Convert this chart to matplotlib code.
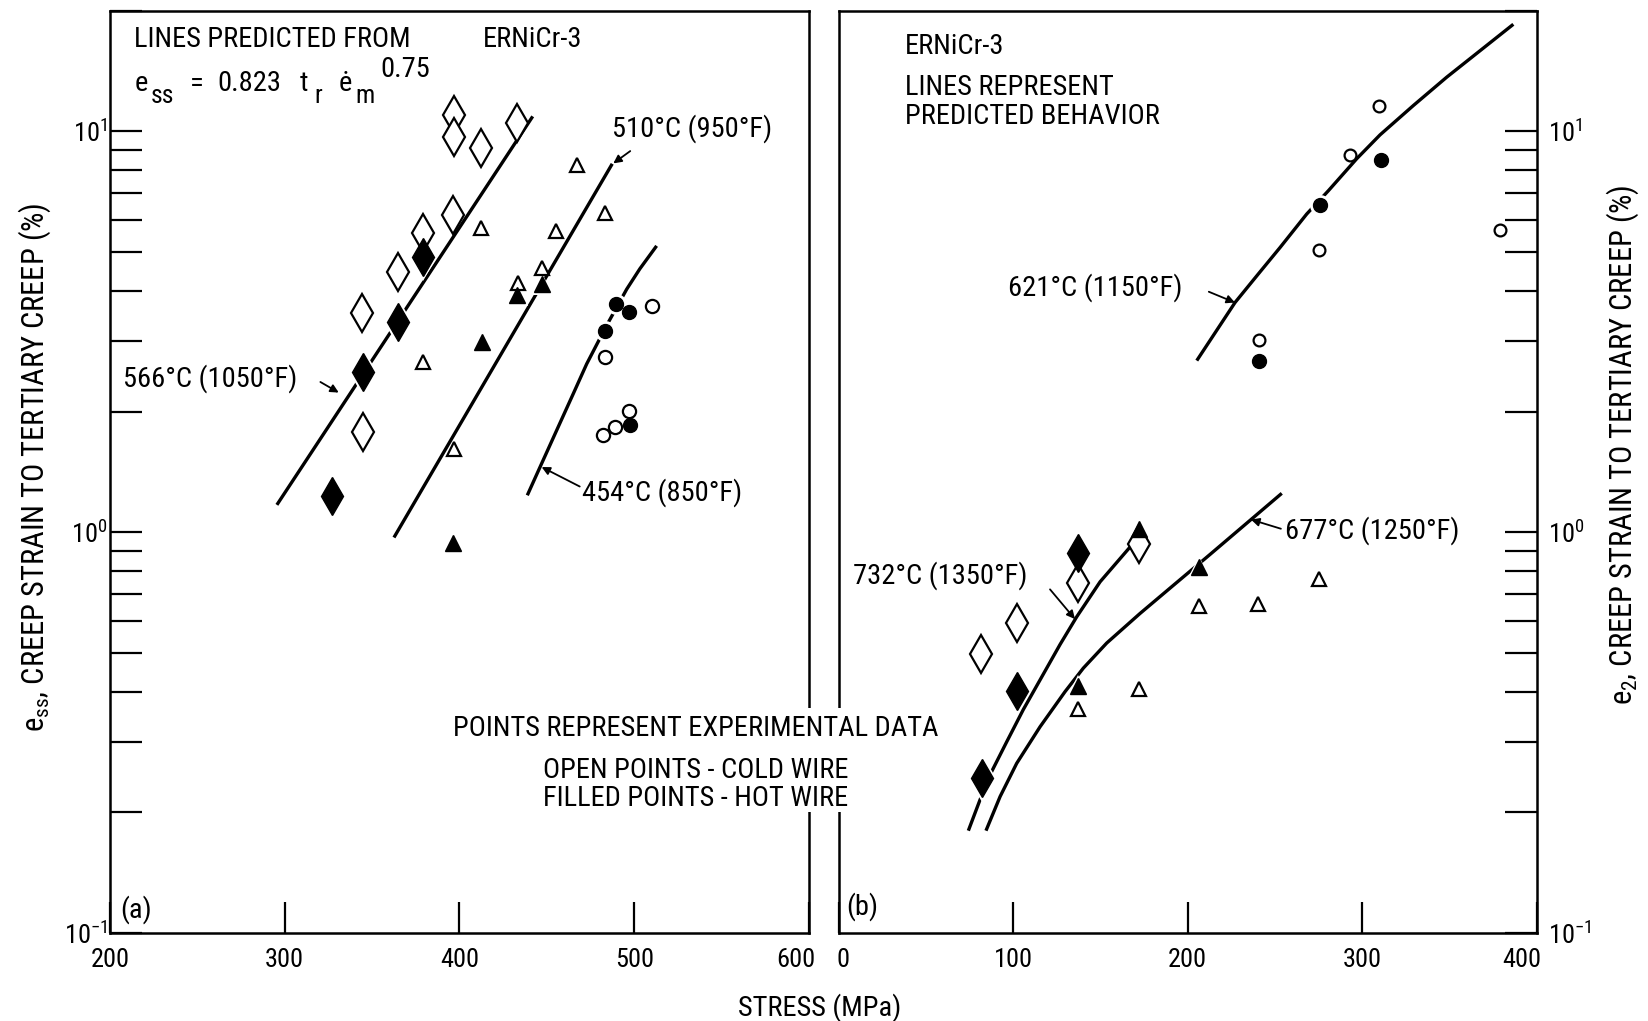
import matplotlib
matplotlib.use("Agg")
import matplotlib.pyplot as plt
import matplotlib.font_manager as fm
import matplotlib.transforms as mtrans
from matplotlib.patches import Rectangle
import numpy as np

# pick a condensed / narrow sans face if one is installed
_pref = ['Liberation Sans Narrow', 'Roboto Condensed', 'Open Sans Condensed', 'DejaVu Sans']
_chosen = None
for fam in _pref:
    for f in fm.fontManager.ttflist:
        if f.name == fam and f.style == 'normal' and f.weight in (400, 'normal', 'regular') \
                and ('Condensed' in f.fname or 'Narrow' in f.fname):
            _chosen = f
            break
    if _chosen:
        break
if _chosen is not None:
    plt.rcParams['font.family'] = [_chosen.name, 'DejaVu Sans']
    plt.rcParams['font.stretch'] = _chosen.stretch
    base = _chosen.name
else:
    plt.rcParams['font.family'] = ['DejaVu Sans']
    base = 'DejaVu Sans'
plt.rcParams['mathtext.fontset'] = 'custom'
plt.rcParams['mathtext.rm'] = base
plt.rcParams['mathtext.it'] = base
plt.rcParams['mathtext.default'] = 'regular'

# ---------------- data: panel (a) ----------------
d566_open_x = [397, 397, 412.5, 433, 396, 379, 365, 344, 345]
d566_open_y = [11.0, 9.7, 9.1, 10.5, 6.18, 5.58, 4.46, 3.52, 1.78]
d566_fill_x = [379, 365, 345, 327]
d566_fill_y = [4.85, 3.34, 2.51, 1.23]

t510_open_x = [412.5, 379, 467, 483, 455, 447, 433.5, 397]
t510_open_y = [5.75, 2.66, 8.24, 6.25, 5.64, 4.57, 4.19, 1.61]
t510_fill_x = [413, 433, 447, 396]
t510_fill_y = [2.99, 3.90, 4.15, 0.94]

c454_open_x = [510, 483, 497, 489, 482]
c454_open_y = [3.66, 2.73, 2.01, 1.83, 1.75]
c454_fill_x = [489.5, 497, 483, 497.5]
c454_fill_y = [3.71, 3.54, 3.18, 1.85]

line566_x = [295.5, 441.9]
line566_y = [1.17, 10.9]
line510_x = [362.5, 487.4]
line510_y = [0.97, 8.3]
line454_x = [438.8, 446.1, 455.6, 465.1, 472.8, 484.2, 495.7, 503.2, 512.8]
line454_y = [1.236, 1.454, 1.795, 2.215, 2.63, 3.28, 4.04, 4.54, 5.18]

# ---------------- data: panel (b) ----------------
c621_open_x = [309.7, 293.1, 275.2, 378.8, 240.9]
c621_open_y = [11.6, 8.72, 5.07, 5.69, 3.02]
c621_fill_x = [310.6, 275.8, 240.9]
c621_fill_y = [8.49, 6.55, 2.67]

d732_open_x = [81.8, 102.1, 137.0, 172.4]
d732_open_y = [0.497, 0.593, 0.747, 0.933]
d732_fill_x = [137.0, 102.1, 82.4]
d732_fill_y = [0.886, 0.402, 0.244]

t677_fill_x = [172.4, 206.7, 137.0]
t677_fill_y = [1.02, 0.82, 0.414]
t677_open_x = [206.7, 240.3, 275.2, 172.4, 137.0]
t677_open_y = [0.655, 0.663, 0.762, 0.407, 0.362]

line621_x = [205.3, 227.2, 240.6, 253.0, 268.3, 280.7, 297.0, 310.3, 329.4, 348.5, 386.7]
line621_y = [2.68, 3.74, 4.41, 5.13, 6.22, 7.11, 8.55, 9.80, 11.6, 13.65, 18.5]
line732_x = [74.4, 81.1, 87.8, 96.4, 105.9, 115.5, 127.0, 136.5, 149.9, 168.9]
line732_y = [0.180, 0.215, 0.253, 0.300, 0.361, 0.428, 0.525, 0.615, 0.752, 0.938]
line677_x = [84.5, 92.6, 102.1, 115.5, 129.8, 140.3, 153.7, 172.8, 191.9, 212.9, 235.8, 254.0]
line677_y = [0.180, 0.219, 0.265, 0.327, 0.400, 0.458, 0.529, 0.627, 0.737, 0.880, 1.07, 1.25]

xticks_a = [200, 300, 400, 500, 600]
xticks_b = [0, 100, 200, 300, 400]
yticks = [0.1, 1, 10]
ytick_labels = [r'$10^{-1}$', r'$10^{0}$', r'$10^{1}$']

FS = 20.5
TFS = 19
LFS = 22
LW = 2.4

fig = plt.figure(figsize=(16.49, 10.21), dpi=100)
axA = fig.add_axes([0.0667, 0.0862, 0.4239, 0.9033])
axB = fig.add_axes([0.5085, 0.0862, 0.4233, 0.9033])

for ax in (axA, axB):
    ax.set_yscale('log')
    ax.set_ylim(0.1, 20)
    for s in ax.spines.values():
        s.set_linewidth(1.8)
    ax.set_yticks(yticks)
    ax.set_yticklabels(ytick_labels)
    ax.yaxis.set_minor_locator(matplotlib.ticker.LogLocator(base=10, subs=np.arange(2, 10)))
    ax.yaxis.set_minor_formatter(matplotlib.ticker.NullFormatter())
    ax.tick_params(axis='both', which='both', direction='in', labelsize=TFS, width=1.6)
    ax.tick_params(axis='y', which='both', length=23)
    ax.tick_params(axis='x', which='both', length=22, pad=11)

axA.set_xlim(200, 600)
axA.set_xticks(xticks_a)
axA.tick_params(axis='y', which='both', left=True, right=False, labelleft=True, labelright=False, pad=2)
axB.set_xlim(0, 400)
axB.set_xticks(xticks_b)
axB.tick_params(axis='y', which='both', left=False, right=True, labelleft=False, labelright=True, pad=8)

def shift_label(ax, idx, dx_px):
    lab = ax.xaxis.get_major_ticks()[idx].label1
    lab.set_transform(lab.get_transform() + mtrans.ScaledTranslation(dx_px / 100, 0, fig.dpi_scale_trans))

shift_label(axA, -1, -13)
shift_label(axB, 0, 4)
shift_label(axB, -1, -15)

def open_pts(ax, x, y, m, ms):
    ax.plot(x, y, linestyle='none', marker=m, ms=ms, mfc='white', mec='black', mew=1.6, zorder=4)

def fill_pts(ax, x, y, m, ms):
    ax.plot(x, y, linestyle='none', marker=m, ms=ms + 5, mfc='white', mec='white', mew=0, zorder=3)
    ax.plot(x, y, linestyle='none', marker=m, ms=ms, mfc='black', mec='black', mew=1.0, zorder=4)

# panel (a)
for lx, ly in ((line566_x, line566_y), (line510_x, line510_y), (line454_x, line454_y)):
    axA.plot(lx, ly, color='black', lw=LW, zorder=2, solid_capstyle='butt', solid_joinstyle='round')
open_pts(axA, d566_open_x, d566_open_y, 'd', 19)
fill_pts(axA, d566_fill_x, d566_fill_y, 'd', 19)
open_pts(axA, t510_open_x, t510_open_y, '^', 10)
fill_pts(axA, t510_fill_x, t510_fill_y, '^', 11)
open_pts(axA, c454_open_x, c454_open_y, 'o', 9.5)
fill_pts(axA, c454_fill_x, c454_fill_y, 'o', 10)

# panel (b)
for lx, ly in ((line621_x, line621_y), (line732_x, line732_y), (line677_x, line677_y)):
    axB.plot(lx, ly, color='black', lw=LW, zorder=2, solid_capstyle='butt', solid_joinstyle='round')
open_pts(axB, c621_open_x, c621_open_y, 'o', 8.5)
fill_pts(axB, c621_fill_x, c621_fill_y, 'o', 10)
open_pts(axB, d732_open_x, d732_open_y, 'd', 19)
fill_pts(axB, d732_fill_x, d732_fill_y, 'd', 19)
fill_pts(axB, t677_fill_x, t677_fill_y, '^', 11)
open_pts(axB, t677_open_x, t677_open_y, '^', 10)

# texts
def ta(ax, x, y, s, **kw):
    kw.setdefault('fontsize', FS)
    ax.text(x, y, s, transform=ax.transAxes, va='center', ha='left', **kw)

ta(axA, 0.0343, 0.969, 'LINES PREDICTED FROM')
ta(axA, 0.5336, 0.969, 'ERNiCr-3')
# equation  e_ss = 0.823 t_r e-dot_m ^0.75
ta(axA, 0.0349, 0.9211, 'e')
ta(axA, 0.0586, 0.9075, 'ss', fontsize=FS * 0.9)
ta(axA, 0.1138, 0.9211, '=')
ta(axA, 0.1531, 0.9211, '0.823')
ta(axA, 0.2720, 0.9211, 't')
ta(axA, 0.2925, 0.9075, 'r', fontsize=FS * 0.9)
ta(axA, 0.3272, 0.9211, 'ė')
ta(axA, 0.3510, 0.9075, 'm', fontsize=FS * 0.9)
ta(axA, 0.3870, 0.9362, '0.75')

ta(axA, 0.0143, 0.0249, '(a)')
ta(axA, 0.718, 0.8717, '510°C (950°F)')
ta(axA, 0.0186, 0.6011, '566°C (1050°F)')
ta(axA, 0.675, 0.4771, '454°C (850°F)')

arr = dict(arrowstyle='-|>', color='black', lw=1.3, mutation_scale=12, shrinkA=0, shrinkB=0)
axA.annotate('', xy=(488.0, 8.32), xytext=(497.7, 8.93), arrowprops=arr)
axA.annotate('', xy=(330.9, 2.23), xytext=(320.4, 2.37), arrowprops=arr)
axA.annotate('', xy=(447.0, 1.454), xytext=(468.8, 1.30), arrowprops=arr)

ta(axB, 0.0947, 0.9613, 'ERNiCr-3')
ta(axB, 0.0947, 0.9167, 'LINES REPRESENT')
ta(axB, 0.0947, 0.8858, 'PREDICTED BEHAVIOR')
ta(axB, 0.2424, 0.6998, '621°C (1150°F)')
ta(axB, 0.6397, 0.4361, '677°C (1250°F)')
ta(axB, 0.0205, 0.3875, '732°C (1350°F)')
ta(axB, 0.0107, 0.0282, '(b)')

axB.annotate('', xy=(227.2, 3.74), xytext=(212.2, 3.98), arrowprops=arr)
axB.annotate('', xy=(236.4, 1.075), xytext=(253.5, 1.02), arrowprops=arr)
axB.annotate('', xy=(135.5, 0.607), xytext=(121.2, 0.72), arrowprops=arr)

axA.set_ylabel(r'$e_{ss}$, CREEP STRAIN TO TERTIARY CREEP (%)', fontsize=LFS, labelpad=8)
axA.yaxis.label.set_y(0.505)
axB.yaxis.set_label_position('right')
axB.set_ylabel(r'$e_2$, CREEP STRAIN TO TERTIARY CREEP (%)', fontsize=LFS, labelpad=10)
axB.yaxis.label.set_y(0.529)

# figure-level texts
fig.patches.append(Rectangle((795 / 1649, 1 - 812 / 1021), 50 / 1649, 104 / 1021,
                             transform=fig.transFigure, facecolor='white', edgecolor='none', zorder=1))
fig.text(0.4221, 0.286, 'POINTS REPRESENT EXPERIMENTAL DATA', fontsize=FS, ha='center', va='center')
fig.text(0.3293, 0.2449, 'OPEN POINTS - COLD WIRE', fontsize=FS, ha='left', va='center')
fig.text(0.3293, 0.2184, 'FILLED POINTS - HOT WIRE', fontsize=FS, ha='left', va='center')
fig.text(0.4973, 0.0132, 'STRESS (MPa)', fontsize=FS, ha='center', va='center')

fig.savefig('out.png', dpi=100, facecolor='white')
